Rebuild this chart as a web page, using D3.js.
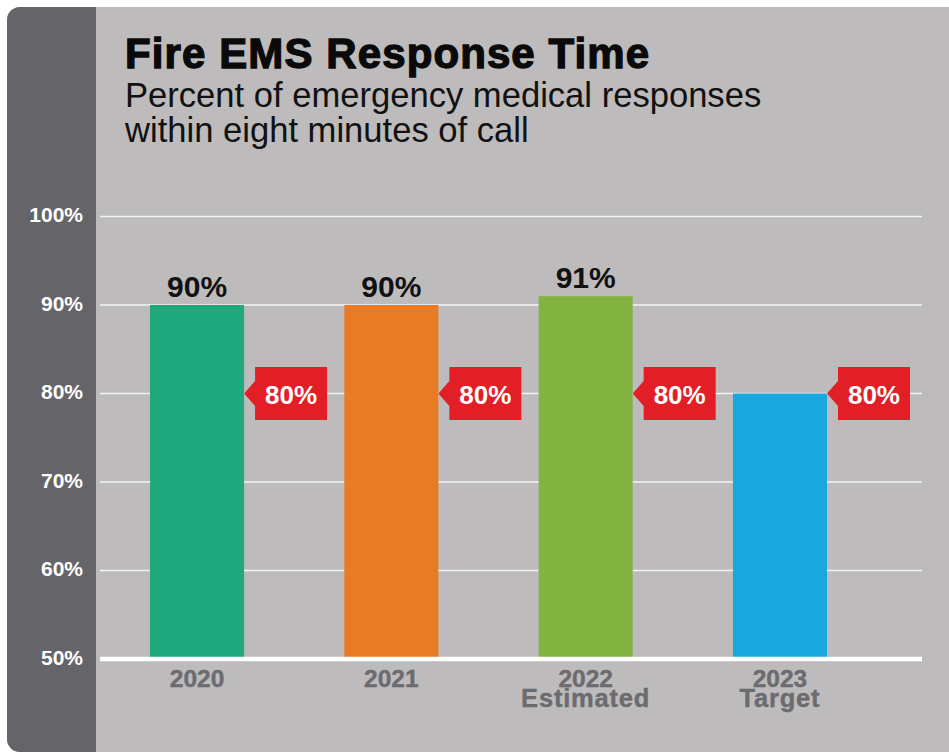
<!DOCTYPE html>
<html>
<head>
<meta charset="utf-8">
<script src="https://cdn.jsdelivr.net/npm/d3@7/dist/d3.min.js"></script>
<style>
  html, body { margin: 0; padding: 0; background: #ffffff; }
  svg { display: block; }
  text { font-family: "Liberation Sans", Arial, Helvetica, sans-serif; }
</style>
</head>
<body>
<svg id="chart" width="949" height="752"></svg>
<script>
// Fire EMS response time: share of medical calls answered within eight minutes
const categories = ["2020", "2021", "2022", "2023"];
const categoryNotes = ["", "", "Estimated", "Target"];
const values = [90, 90, 91, 80];
const showValue = [true, true, true, false];
const targets = [80, 80, 80, 80];
const barColors = ["#1fa97c", "#e97b25", "#82b341", "#19a7df"];
const yTicks = [50, 60, 70, 80, 90, 100];
const yTickLabels = ["50%", "60%", "70%", "80%", "90%", "100%"];

const svg = d3.select("#chart");

// Card background: dark axis strip on the left, light plotting panel
svg.append("rect")
  .attr("x", 7).attr("y", 7).attr("width", 980).attr("height", 745)
  .attr("rx", 13).attr("ry", 13)
  .attr("fill", "#bdbbbb");
svg.append("rect")
  .attr("x", 7).attr("y", 7).attr("width", 89).attr("height", 745)
  .attr("rx", 13).attr("ry", 13)
  .attr("fill", "#646469");
svg.append("rect")
  .attr("x", 60).attr("y", 7).attr("width", 36).attr("height", 745)
  .attr("fill", "#646469");

// Title block
svg.append("text")
  .attr("x", 125).attr("y", 68)
  .attr("font-size", 42).attr("font-weight", "bold")
  .attr("fill", "#0a0a0a").attr("stroke", "#0a0a0a").attr("stroke-width", 1.3)
  .attr("letter-spacing", 1.1)
  .text("Fire EMS Response Time");
svg.append("text")
  .attr("x", 125).attr("y", 107)
  .attr("font-size", 34.6).attr("fill", "#111111")
  .text("Percent of emergency medical responses");
svg.append("text")
  .attr("x", 125).attr("y", 142)
  .attr("font-size", 34.6).attr("fill", "#111111")
  .text("within eight minutes of call");

// Scales
const y = d3.scaleLinear().domain([50, 100]).range([659, 216.5]);
const x = d3.scaleBand()
  .domain(categories)
  .range([99.5, 877.5])
  .paddingInner(0.516)
  .paddingOuter(0.26);
const gridX0 = 100, gridX1 = 922;

// Gridlines
svg.append("g")
  .selectAll("line")
  .data(yTicks.filter(d => d > 50))
  .join("line")
  .attr("x1", gridX0).attr("x2", gridX1)
  .attr("y1", d => y(d)).attr("y2", d => y(d))
  .attr("stroke", "#f4f4f4").attr("stroke-width", 1.6);

// Y tick labels in the dark strip
const yAxis = d3.axisLeft(y)
  .tickValues(yTicks)
  .tickFormat((d, i) => yTickLabels[i])
  .tickSize(0)
  .tickPadding(0);
const yAxisG = svg.append("g")
  .attr("transform", "translate(83,0)")
  .call(yAxis);
yAxisG.select(".domain").remove();
yAxisG.selectAll("text")
  .attr("fill", "#ffffff")
  .attr("font-size", 21)
  .attr("font-weight", "bold")
  .attr("font-family", "\"Liberation Sans\", Arial, sans-serif")
  .attr("dy", "0.24em");

// Bars
svg.append("g")
  .selectAll("rect")
  .data(values)
  .join("rect")
  .attr("x", (d, i) => x(categories[i]))
  .attr("width", x.bandwidth())
  .attr("y", d => y(d))
  .attr("height", d => y(50) - y(d))
  .attr("fill", (d, i) => barColors[i]);

// Baseline
svg.append("line")
  .attr("x1", gridX0).attr("x2", gridX1)
  .attr("y1", y(50)).attr("y2", y(50))
  .attr("stroke", "#ffffff").attr("stroke-width", 4.5);

// Value labels above bars
svg.append("g")
  .selectAll("text")
  .data(values.map((v, i) => ({ v, i })).filter(d => showValue[d.i]))
  .join("text")
  .attr("x", d => x(categories[d.i]) + x.bandwidth() / 2)
  .attr("y", d => y(d.v) - 8)
  .attr("text-anchor", "middle")
  .attr("font-size", 30).attr("font-weight", "bold")
  .attr("fill", "#111111")
  .text(d => d.v + "%");

// Target flags pointing at each bar
const flagGap = 11, flagW = 72, flagH = 53, notch = 12.5;
const flags = svg.append("g")
  .selectAll("g")
  .data(targets.map((t, i) => ({ t, i })))
  .join("g")
  .attr("transform", d => `translate(${x(categories[d.i]) + x.bandwidth()},${y(d.t)})`);
flags.append("path")
  .attr("d", `M0,0 L${flagGap},${-notch} L${flagGap},${-flagH / 2} L${flagGap + flagW},${-flagH / 2} L${flagGap + flagW},${flagH / 2} L${flagGap},${flagH / 2} L${flagGap},${notch} Z`)
  .attr("fill", "#e21f26");
flags.append("text")
  .attr("x", flagGap + flagW / 2)
  .attr("y", 10)
  .attr("text-anchor", "middle")
  .attr("font-size", 26).attr("font-weight", "bold")
  .attr("fill", "#ffffff")
  .text(d => d.t + "%");

// Category labels (year, with an optional note underneath)
const catX = d => x(d) + x.bandwidth() / 2;
svg.append("g")
  .selectAll("text")
  .data(categories)
  .join("text")
  .attr("x", catX)
  .attr("y", 687)
  .attr("text-anchor", "middle")
  .attr("font-size", 24.5).attr("font-weight", "bold")
  .attr("fill", "#6b6b70")
  .attr("stroke", "#6b6b70").attr("stroke-width", 0.4)
  .text(d => d);
svg.append("g")
  .selectAll("text")
  .data(categories.filter((d, i) => categoryNotes[i]))
  .join("text")
  .attr("x", catX)
  .attr("y", 707)
  .attr("text-anchor", "middle")
  .attr("font-size", 25.5).attr("font-weight", "bold")
  .attr("fill", "#6b6b70")
  .attr("stroke", "#6b6b70").attr("stroke-width", 0.4)
  .attr("letter-spacing", 0.8)
  .text(d => categoryNotes[categories.indexOf(d)]);
</script>
</body>
</html>
